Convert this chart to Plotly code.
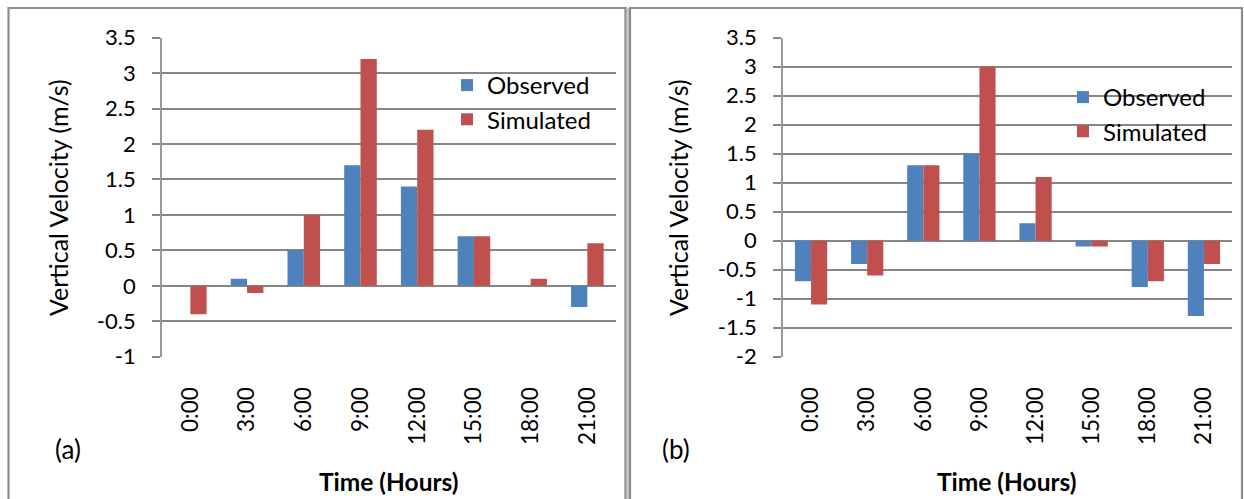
import plotly.graph_objects as go

# Three-hourly vertical velocity, observed vs simulated, two sites
hours = ["0:00", "3:00", "6:00", "9:00", "12:00", "15:00", "18:00", "21:00"]
observed_a = [0.0, 0.1, 0.5, 1.7, 1.4, 0.7, 0.0, -0.3]
simulated_a = [-0.4, -0.1, 1.0, 3.2, 2.2, 0.7, 0.1, 0.6]
observed_b = [-0.7, -0.4, 1.3, 1.5, 0.3, -0.1, -0.8, -1.3]
simulated_b = [-1.1, -0.6, 1.3, 3.0, 1.1, -0.1, -0.7, -0.4]
yticks_a = [-1, -0.5, 0, 0.5, 1, 1.5, 2, 2.5, 3, 3.5]
yticks_b = [-2, -1.5, -1, -0.5, 0, 0.5, 1, 1.5, 2, 2.5, 3, 3.5]

W, H = 1244, 499
BLUE = "#4F81BD"
RED = "#C0504D"
GRID = "#868686"
AXIS = "#999999"
FONT = "Lato, 'Open Sans', sans-serif"


def fx(px):
    return px / W


def fy(py):
    return 1 - py / H


ydom = [fy(356.7), fy(37.7)]
panels = [
    dict(xdom=[fx(162), fx(615.7)], yt=yticks_a, obs=observed_a, sim=simulated_a,
         legend="legend", leg_x=487, leg_top=63, tag="(a)", tag_x=68, time_x=389,
         ytitle_x=58),
    dict(xdom=[fx(783), fx(1232)], yt=yticks_b, obs=observed_b, sim=simulated_b,
         legend="legend2", leg_x=1103, leg_top=75, tag="(b)", tag_x=676, time_x=1007,
         ytitle_x=678),
]

fig = go.Figure()
layout = dict(
    width=W, height=H,
    margin=dict(l=0, r=0, t=0, b=0, autoexpand=False),
    paper_bgcolor="white", plot_bgcolor="white",
    font=dict(family=FONT, size=20, color="black"),
    barmode="group", bargap=0.425, bargroupgap=0.0,
    showlegend=True,
)
annotations = []
shapes = []

for i, p in enumerate(panels):
    n = 2 * i + 1
    xa = "x" if n == 1 else f"x{n}"
    ya = "y" if i == 0 else "y2"
    xkey = "xaxis" if n == 1 else f"xaxis{n}"
    ykey = "yaxis" if i == 0 else "yaxis2"
    tick_key = f"xaxis{n + 1}"

    fig.add_trace(go.Bar(x=hours, y=p["obs"], name="Observed", marker_color=BLUE,
                         marker_line_width=0, xaxis=xa, yaxis=ya,
                         legend=p["legend"]))
    fig.add_trace(go.Bar(x=hours, y=p["sim"], name="Simulated", marker_color=RED,
                         marker_line_width=0, xaxis=xa, yaxis=ya,
                         legend=p["legend"]))

    layout[xkey] = dict(domain=p["xdom"], anchor=ya, type="category",
                        categoryorder="array", categoryarray=hours,
                        showline=False, showgrid=False, ticks="",
                        tickangle=-90, ticklabelstandoff=25, automargin=False,
                        tickfont=dict(size=22.5))
    yr = [p["yt"][0], p["yt"][-1]]
    layout[ykey] = dict(domain=ydom, anchor=xa, range=yr,
                        tickmode="array", tickvals=p["yt"],
                        ticktext=[f"{v:g}" for v in p["yt"]],
                        showgrid=True, gridcolor=GRID, gridwidth=1.8,
                        zeroline=False, showline=True, linecolor=AXIS, linewidth=1.8,
                        ticks="outside", ticklen=8, tickcolor=GRID, tickwidth=1.8,
                        ticklabelstandoff=12, automargin=False,
                        tickfont=dict(size=22))
    # category boundary ticks hanging below the zero line
    zero_pos = ydom[0] + (0 - yr[0]) / (yr[1] - yr[0]) * (ydom[1] - ydom[0])
    layout[tick_key] = dict(overlaying=xa, anchor="free", position=zero_pos,
                            domain=p["xdom"], range=[-0.5, len(hours) - 0.5],
                            tickmode="array",
                            tickvals=[k + 0.5 for k in range(len(hours))],
                            ticks="outside", ticklen=8, tickcolor=GRID, tickwidth=1.8,
                            showticklabels=False, showgrid=False, showline=False,
                            zeroline=False, automargin=False)

    layout[p["legend"]] = dict(x=fx(p["leg_x"] - 40), y=fy(p["leg_top"]),
                               xanchor="left", yanchor="top",
                               bgcolor="rgba(0,0,0,0)", borderwidth=0,
                               font=dict(size=24), traceorder="normal")

    annotations.append(dict(text="Vertical Velocity (m/s)", textangle=-90,
                            x=fx(p["ytitle_x"]), y=fy(198), xref="paper", yref="paper",
                            xanchor="center", yanchor="middle",
                            showarrow=False, font=dict(size=25)))
    annotations.append(dict(text="<b>Time (Hours)</b>", x=fx(p["time_x"]), y=fy(481),
                            xref="paper", yref="paper", xanchor="center",
                            yanchor="middle", showarrow=False, font=dict(size=24.5)))
    annotations.append(dict(text=p["tag"], x=fx(p["tag_x"]), y=fy(449),
                            xref="paper", yref="paper", xanchor="center",
                            yanchor="middle", showarrow=False, font=dict(size=26)))

# panel frames
for x0, x1 in [(8.5, 625.5), (630, 1242)]:
    shapes.append(dict(type="rect", xref="paper", yref="paper",
                       x0=fx(x0), x1=fx(x1), y0=fy(505), y1=fy(8),
                       line=dict(color="#8C8C8C", width=2.2)))
shapes.append(dict(type="line", xref="paper", yref="paper",
                   x0=fx(628), x1=fx(628), y0=fy(505), y1=fy(8),
                   line=dict(color="#B0B0B0", width=1.5)))

layout["annotations"] = annotations
layout["shapes"] = shapes
fig.update_layout(**layout)
fig.write_html("out.html")
